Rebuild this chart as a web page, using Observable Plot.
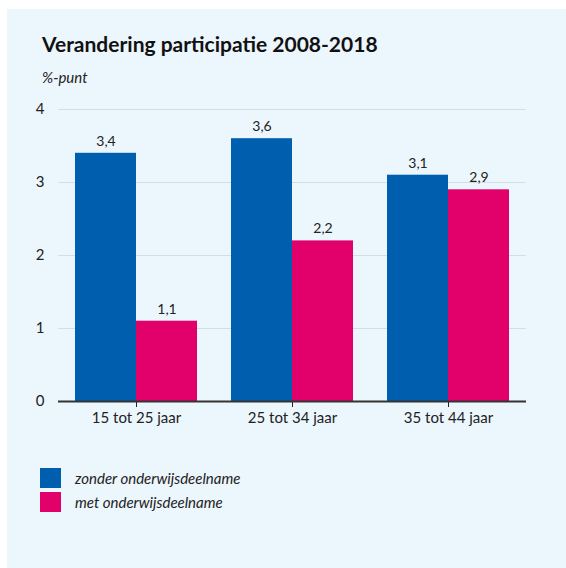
<!DOCTYPE html>
<html>
<head>
<meta charset="utf-8">
<script src="https://cdn.jsdelivr.net/npm/d3@7"></script>
<script src="https://cdn.jsdelivr.net/npm/@observablehq/plot@0.6"></script>
<style>
  html, body { margin: 0; padding: 0; background: #fff; }
  body { width: 566px; height: 568px; position: relative; overflow: hidden; font-family: Lato, "Open Sans", sans-serif; }
  #panel { position: absolute; left: 7px; top: 9px; width: 559px; height: 559px; background: #ecf6fd; }
  #title { position: absolute; left: 35px; top: 22px; font-size: 21px; font-weight: bold; color: #111; }
  #unit { position: absolute; left: 35px; top: 59px; font-size: 15px; font-style: italic; color: #222; }
  #chart { position: absolute; left: 0; top: 86px; }
  #legend { position: absolute; left: 33px; top: 457px; font-size: 15px; font-style: italic; color: #222; }
  .li { display: flex; align-items: center; height: 24px; }
  .sw { width: 21px; height: 20px; margin-right: 14px; }
</style>
</head>
<body>
<div id="panel">
  <div id="title">Verandering participatie 2008-2018</div>
  <div id="unit">%-punt</div>
  <div id="chart"></div>
  <div id="legend"></div>
</div>
<script>
const groups = ["15 tot 25 jaar", "25 tot 34 jaar", "35 tot 44 jaar"];
const series = ["zonder onderwijsdeelname", "met onderwijsdeelname"];
const zonder = [3.4, 3.6, 3.1];
const met = [1.1, 2.2, 2.9];
const yTicks = [0, 1, 2, 3, 4];
const colors = ["#005eae", "#e2006b"];

const data = [];
groups.forEach((g, i) => {
  data.push({group: g, series: series[0], value: zonder[i]});
  data.push({group: g, series: series[1], value: met[i]});
});
const fmt = v => d3.format(".1f")(v).replace(".", ",");

const plot = Plot.plot({
  width: 559,
  height: 350,
  marginTop: 14,
  marginLeft: 50,
  marginRight: 39,
  marginBottom: 44,
  style: {background: "transparent", fontSize: "15px", fontFamily: "Lato, 'Open Sans', sans-serif", color: "#222"},
  fx: {domain: groups, padding: 0, label: null, tickSize: 6, tickPadding: 5},
  x: {domain: series, axis: null, paddingInner: 0, paddingOuter: 0.26},
  y: {domain: [0, 4], ticks: yTicks, tickSize: 0, tickPadding: 14, label: null, tickFormat: d => String(d)},
  color: {domain: series, range: colors},
  marks: [
    Plot.gridY(yTicks.filter(d => d > 0), {stroke: "#d5dde4", strokeOpacity: 1}),
    Plot.barY(data, {fx: "group", x: "series", y: "value", fill: "series"}),
    Plot.text(data, {fx: "group", x: "series", y: "value", text: d => fmt(d.value), dy: -12, fontSize: 14, fill: "#222"}),
    Plot.ruleY([0], {stroke: "#333", strokeWidth: 2})
  ]
});
document.getElementById("chart").appendChild(plot);

const legend = document.getElementById("legend");
series.forEach((s, i) => {
  const row = document.createElement("div");
  row.className = "li";
  const sw = document.createElement("div");
  sw.className = "sw";
  sw.style.background = colors[i];
  const t = document.createElement("span");
  t.textContent = s;
  row.appendChild(sw);
  row.appendChild(t);
  legend.appendChild(row);
});
</script>
</body>
</html>
